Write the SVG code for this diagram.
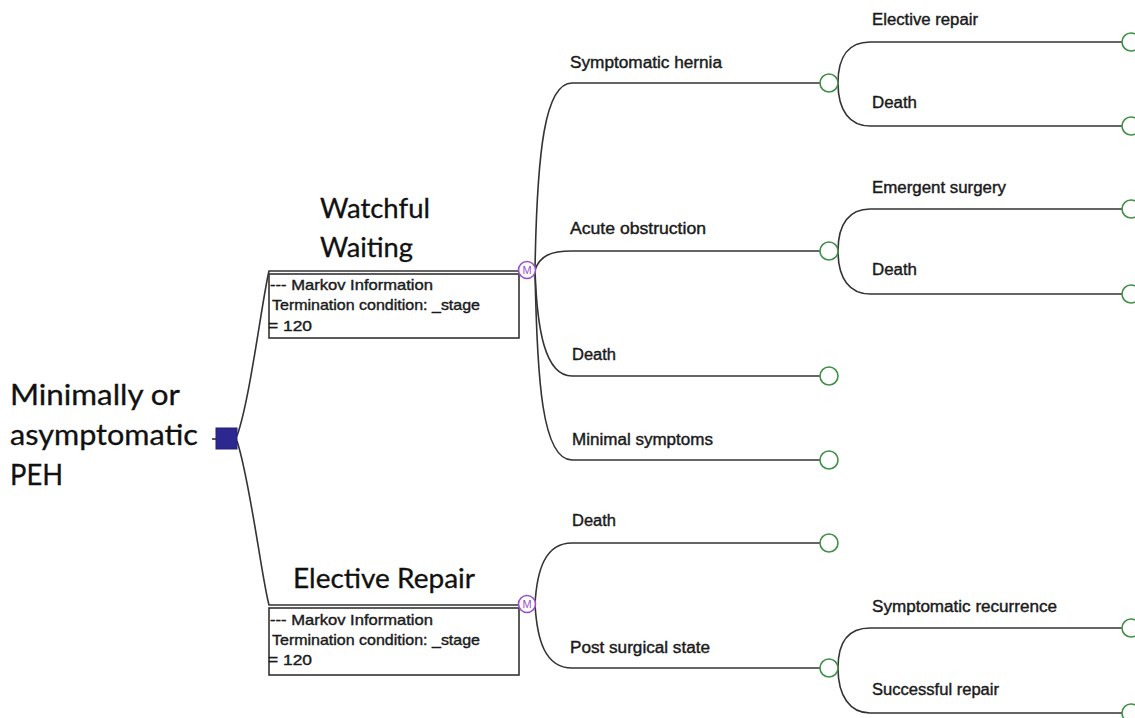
<svg xmlns="http://www.w3.org/2000/svg" width="1135" height="718" viewBox="0 0 1135 718">
<style>
.big{font-family:Lato,"Liberation Sans",sans-serif;font-size:28px;fill:#111;stroke:#111;stroke-width:0.3}
.lbl{font-family:"Liberation Sans",Arial,sans-serif;font-size:16px;fill:#1a1a1a;stroke:#1a1a1a;stroke-width:0.4}
.box{font-family:"Liberation Sans",Arial,sans-serif;font-size:15px;fill:#1a1a1a;stroke:#1a1a1a;stroke-width:0.4}
.br{fill:none;stroke:#333;stroke-width:1.6}
.chance{fill:#fff;stroke:#3f8f45;stroke-width:1.6}
.markov{fill:#fff;stroke:#9a4ed0;stroke-width:1.6}
.mtxt{font-family:"Liberation Sans",Arial,sans-serif;font-size:11px;fill:#9a4ed0;text-anchor:middle}
.mbox{fill:#fff;stroke:#333;stroke-width:1.6}
</style>
<rect width="1135" height="718" fill="#fff"/>

<g id="connectors">
  <path class="br" d="M237,436 C250,400 262,300 269,271 L521,271"/>
  <path class="br" d="M237,441 C250,480 262,580 269,605 L521,605"/>
  <line class="br" x1="212" y1="439" x2="216" y2="439"/>
  <path class="br" d="M535,270 C537,150 545,83 572,83 L820,83"/>
  <path class="br" d="M535,270 C540,256 550,251 572,251 L820,251"/>
  <path class="br" d="M535,270 C537,330 545,376 572,376 L820,376"/>
  <path class="br" d="M535,270 C537,380 542,460 572,460 L820,460"/>
  <path class="br" d="M535,604 C537,570 545,543 572,543 L820,543"/>
  <path class="br" d="M535,604 C537,640 545,668 572,668 L820,668"/>
  <path class="br" d="M838,83 C838,55 850,42 870,42 L1122,42"/>
  <path class="br" d="M838,83 C838,111 850,126 870,126 L1122,126"/>
  <path class="br" d="M838,251 C838,223 850,209 870,209 L1122,209"/>
  <path class="br" d="M838,251 C838,279 850,294 870,294 L1122,294"/>
  <path class="br" d="M838,668 C838,640 850,628 870,628 L1122,628"/>
  <path class="br" d="M838,668 C838,696 850,713 870,713 L1122,713"/>
</g>

<g id="root">
  <rect x="216" y="428" width="21" height="21" fill="#2d2890" stroke="#241f7a" stroke-width="1"/>
  <text class="big" x="10" y="405" textLength="170" lengthAdjust="spacingAndGlyphs">Minimally or</text>
  <text class="big" x="10" y="445" textLength="188" lengthAdjust="spacingAndGlyphs">asymptomatic</text>
  <text class="big" x="10" y="485" textLength="53" lengthAdjust="spacingAndGlyphs">PEH</text>
</g>

<g id="watchful">
  <text class="big" x="320" y="218" style="font-size:26px" textLength="110" lengthAdjust="spacingAndGlyphs">Watchful</text>
  <text class="big" x="320" y="257" style="font-size:26px" textLength="93" lengthAdjust="spacingAndGlyphs">Waiting</text>
  <rect class="mbox" x="269" y="274" width="250" height="64"/>
  <text class="box" x="270" y="290" textLength="163" lengthAdjust="spacingAndGlyphs">--- Markov Information</text>
  <text class="box" x="272" y="310" textLength="208" lengthAdjust="spacingAndGlyphs">Termination condition: _stage</text>
  <text class="box" x="268" y="331" textLength="44" lengthAdjust="spacingAndGlyphs">= 120</text>
  <circle class="markov" cx="527" cy="270" r="8.5"/>
  <text class="mtxt" x="527" y="274">M</text>
</g>

<g id="elective">
  <text class="big" x="293" y="588" style="font-size:26px" textLength="182" lengthAdjust="spacingAndGlyphs">Elective Repair</text>
  <rect class="mbox" x="269" y="608" width="250" height="67"/>
  <text class="box" x="270" y="625" textLength="163" lengthAdjust="spacingAndGlyphs">--- Markov Information</text>
  <text class="box" x="272" y="645" textLength="208" lengthAdjust="spacingAndGlyphs">Termination condition: _stage</text>
  <text class="box" x="268" y="665" textLength="44" lengthAdjust="spacingAndGlyphs">= 120</text>
  <circle class="markov" cx="527" cy="604" r="8.5"/>
  <text class="mtxt" x="527" y="608">M</text>
</g>

<g id="symptomatic-hernia">
  <text class="lbl" x="570" y="68" textLength="152" lengthAdjust="spacingAndGlyphs">Symptomatic hernia</text>
  <circle class="chance" cx="829" cy="83" r="9"/>
</g>
<g id="acute-obstruction">
  <text class="lbl" x="570" y="234" textLength="136" lengthAdjust="spacingAndGlyphs">Acute obstruction</text>
  <circle class="chance" cx="829" cy="251" r="9"/>
</g>
<g id="ww-death">
  <text class="lbl" x="572" y="360" textLength="44" lengthAdjust="spacingAndGlyphs">Death</text>
  <circle class="chance" cx="829" cy="376" r="9"/>
</g>
<g id="minimal-symptoms">
  <text class="lbl" x="572" y="445" textLength="141" lengthAdjust="spacingAndGlyphs">Minimal symptoms</text>
  <circle class="chance" cx="829" cy="460" r="9"/>
</g>
<g id="er-death">
  <text class="lbl" x="572" y="526" textLength="44" lengthAdjust="spacingAndGlyphs">Death</text>
  <circle class="chance" cx="829" cy="543" r="9"/>
</g>
<g id="post-surgical">
  <text class="lbl" x="570" y="653" textLength="140" lengthAdjust="spacingAndGlyphs">Post surgical state</text>
  <circle class="chance" cx="829" cy="668" r="9"/>
</g>

<g id="elective-repair-outcome">
  <text class="lbl" x="872" y="25" textLength="106" lengthAdjust="spacingAndGlyphs">Elective repair</text>
  <circle class="chance" cx="1131" cy="42" r="9"/>
</g>
<g id="sh-death">
  <text class="lbl" x="872" y="108" textLength="45" lengthAdjust="spacingAndGlyphs">Death</text>
  <circle class="chance" cx="1131" cy="126" r="9"/>
</g>
<g id="emergent-surgery">
  <text class="lbl" x="872" y="193" textLength="134" lengthAdjust="spacingAndGlyphs">Emergent surgery</text>
  <circle class="chance" cx="1131" cy="209" r="9"/>
</g>
<g id="ao-death">
  <text class="lbl" x="872" y="275" textLength="45" lengthAdjust="spacingAndGlyphs">Death</text>
  <circle class="chance" cx="1131" cy="294" r="9"/>
</g>
<g id="symptomatic-recurrence">
  <text class="lbl" x="872" y="612" textLength="185" lengthAdjust="spacingAndGlyphs">Symptomatic recurrence</text>
  <circle class="chance" cx="1131" cy="628" r="9"/>
</g>
<g id="successful-repair">
  <text class="lbl" x="872" y="695" textLength="127" lengthAdjust="spacingAndGlyphs">Successful repair</text>
  <circle class="chance" cx="1131" cy="713" r="9"/>
</g>
</svg>
